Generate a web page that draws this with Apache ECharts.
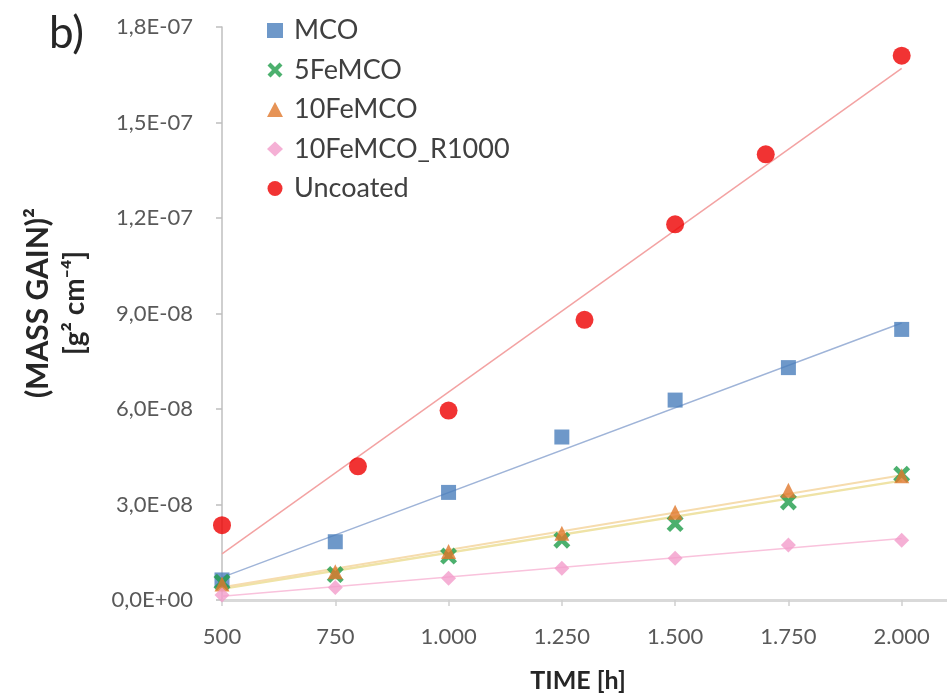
<!DOCTYPE html>
<html>
<head>
<meta charset="utf-8">
<script src="https://cdn.jsdelivr.net/npm/echarts@6/dist/echarts.min.js"></script>
<style>
html,body{margin:0;padding:0;background:#fff;}
#chart{width:947px;height:699px;}
</style>
</head>
<body>
<div id="chart"></div>
<script>
// ---- data ----
const xTickValues = [500, 750, 1000, 1250, 1500, 1750, 2000];
const xTickLabels = ['500', '750', '1.000', '1.250', '1.500', '1.750', '2.000'];
const yTickLabels = ['0,0E+00', '3,0E-08', '6,0E-08', '9,0E-08', '1,2E-07', '1,5E-07', '1,8E-07'];

const timeCoated = [500, 750, 1000, 1250, 1500, 1750, 2000];
const mco    = [6.3e-9, 1.83e-8, 3.38e-8, 5.12e-8, 6.28e-8, 7.3e-8, 8.5e-8];
const fe5    = [5.6e-9, 8.0e-9, 1.38e-8, 1.88e-8, 2.4e-8, 3.08e-8, 3.95e-8];
const fe10   = [5.0e-9, 8.9e-9, 1.52e-8, 2.1e-8, 2.76e-8, 3.45e-8, 3.9e-8];
const r1000  = [1.6e-9, 3.9e-9, 6.8e-9, 1.0e-8, 1.31e-8, 1.73e-8, 1.88e-8];

const timeUncoated = [500, 800, 1000, 1300, 1500, 1700, 2000];
const uncoated = [2.35e-8, 4.2e-8, 5.95e-8, 8.8e-8, 1.18e-7, 1.4e-7, 1.71e-7];

// linear trend lines (end points)
const trendX        = [500, 2000];
const trendMCO      = [7.1e-9, 8.7e-8];
const trendFe5      = [3.5e-9, 3.75e-8];
const trendFe10     = [4.0e-9, 3.92e-8];
const trendR1000    = [1.2e-9, 1.93e-8];
const trendUncoated = [1.45e-8, 1.67e-7];

const seriesNames = ['MCO', '5FeMCO', '10FeMCO', '10FeMCO_R1000', 'Uncoated'];

// ---- build ----
const zip = (xs, ys) => xs.map((x, i) => [x, ys[i]]);
const FONT = 'Lato, "Open Sans", sans-serif';
const crossPath = 'path://M2,0 L5,3 L8,0 L10,2 L7,5 L10,8 L8,10 L5,7 L2,10 L0,8 L3,5 L0,2 Z';

function trend(ys, color, width) {
  return {
    type: 'line', data: zip(trendX, ys), showSymbol: false, silent: true,
    lineStyle: { color: color, width: width }, z: 1, legendHoverLink: false
  };
}

const chart = echarts.init(document.getElementById('chart'), null, { renderer: 'canvas' });
chart.setOption({
  animation: false,
  backgroundColor: '#ffffff',
  grid: { left: 222, right: 0, top: 27, bottom: 99 },
  legend: {
    data: seriesNames,
    orient: 'vertical',
    left: 262, top: 12,
    itemGap: 12.5, itemWidth: 16, itemHeight: 15,
    textStyle: { fontFamily: FONT, fontSize: 27, color: '#404040', padding: [0, 0, 0, 6] }
  },
  xAxis: {
    type: 'value', min: 500, max: 2100, interval: 250,
    axisLine: { show: true, lineStyle: { color: '#d9d9d9', width: 3 } },
    axisTick: { show: true, length: 6, lineStyle: { color: '#d0d0d0', width: 1.5 }, customValues: xTickValues },
    axisLabel: {
      customValues: xTickValues,
      margin: 26, fontFamily: FONT, fontSize: 22, color: '#595959',
      formatter: v => { const i = xTickValues.indexOf(v); return i >= 0 ? xTickLabels[i] : ''; }
    },
    splitLine: { show: false }
  },
  yAxis: {
    type: 'value', min: 0, max: 1.8e-7, interval: 3e-8,
    axisLine: { show: true, lineStyle: { color: '#bfbfbf', width: 1.5 } },
    axisTick: { show: true, length: 6, lineStyle: { color: '#bfbfbf', width: 1.5 } },
    axisLabel: {
      margin: 29, fontFamily: FONT, fontSize: 22, color: '#595959',
      formatter: v => yTickLabels[Math.round(v / 3e-8)] || ''
    },
    splitLine: { show: false }
  },
  graphic: [
    { type: 'text', left: 49, top: 12, style: { text: 'b)', font: '44px ' + FONT, fill: '#262626' } },
    { type: 'text', x: 38, y: 303, rotation: Math.PI / 2,
      style: { text: '(MASS GAIN)²', font: 'bold 30px ' + FONT, fill: '#262626', align: 'center', verticalAlign: 'middle' } },
    { type: 'text', x: 75, y: 303, rotation: Math.PI / 2,
      style: { text: '[g² cm⁻⁴]', font: 'bold 28px ' + FONT, fill: '#262626', align: 'center', verticalAlign: 'middle' } },
    { type: 'text', x: 578, y: 681,
      style: { text: 'TIME [h]', font: 'bold 25px ' + FONT, fill: '#262626', align: 'center', verticalAlign: 'middle' } }
  ],
  series: [
    trend(trendUncoated, '#f3a3a3', 1.5),
    trend(trendMCO, '#9fb4d8', 1.5),
    trend(trendFe5, '#efe3a6', 2.5),
    trend(trendFe10, '#f6dcae', 2),
    trend(trendR1000, '#f9c2dc', 1.5),
    { name: 'MCO', type: 'scatter', data: zip(timeCoated, mco), symbol: 'rect', symbolSize: 15,
      itemStyle: { color: '#4a7ebb' }, z: 3 },
    { name: '5FeMCO', type: 'scatter', data: zip(timeCoated, fe5), symbol: crossPath, symbolSize: 17,
      itemStyle: { color: '#1f9c4a' }, z: 3 },
    { name: '10FeMCO', type: 'scatter', data: zip(timeCoated, fe10), symbol: 'triangle', symbolSize: 15,
      itemStyle: { color: '#e0782c' }, z: 3 },
    { name: '10FeMCO_R1000', type: 'scatter', data: zip(timeCoated, r1000), symbol: 'diamond', symbolSize: 15,
      itemStyle: { color: '#f39ccb' }, z: 3 },
    { name: 'Uncoated', type: 'scatter', data: zip(timeUncoated, uncoated), symbol: 'circle', symbolSize: 18,
      itemStyle: { color: '#ee0000' }, z: 3 }
  ]
});
</script>
</body>
</html>
